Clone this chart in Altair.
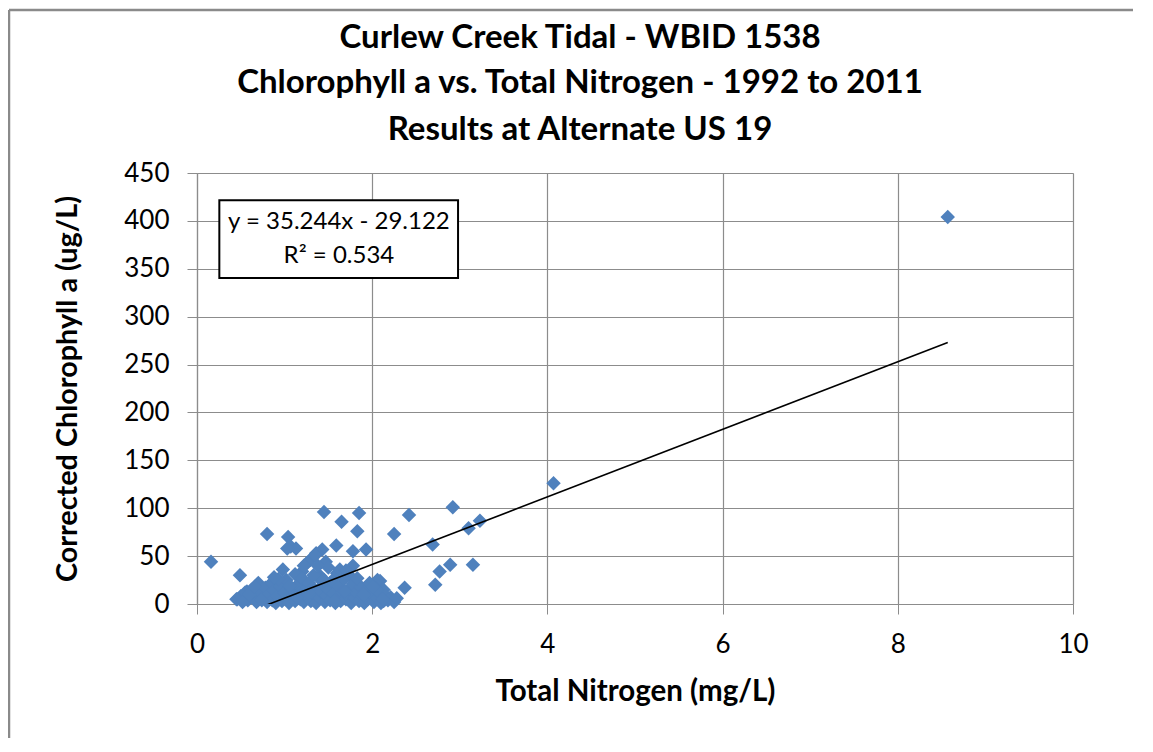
import altair as alt
import pandas as pd

# Total Nitrogen (mg/L)
tn = [0.16, 0.49, 0.80, 1.45, 1.85, 1.65, 1.83, 1.04, 1.07, 1.13, 1.43, 1.59,
      1.78, 1.93, 1.36, 1.29, 1.26, 1.47, 1.78, 0.98, 2.25, 2.42, 2.92, 3.23,
      3.10, 2.69, 2.89, 3.15, 2.77, 2.72, 2.37, 2.09, 2.21, 2.13, 4.07, 8.57,
      1.03, 1.60, 1.35, 1.20, 1.12, 1.41, 1.52, 1.75, 2.06, 1.98, 2.13, 0.57,
      0.70, 0.46,
      0.45, 0.50, 0.55, 0.58, 0.62, 0.65, 0.68, 0.70, 0.72, 0.75, 0.78, 0.80,
      0.82, 0.85, 0.86, 0.88, 0.90, 0.92, 0.95, 0.97, 1.00, 1.02, 1.03, 1.05,
      1.08, 1.10, 1.12, 1.15, 1.17, 1.18, 1.20, 1.22, 1.24, 1.26, 1.28, 1.30,
      1.32, 1.34, 1.36, 1.38, 1.40, 1.42, 1.44, 1.46, 1.48, 1.50, 1.52, 1.54,
      1.56, 1.58, 1.60, 1.62, 1.64, 1.66, 1.68, 1.70, 1.72, 1.74, 1.76, 1.78,
      1.80, 1.82, 1.85, 1.87, 1.89, 1.91, 1.93, 1.95, 1.97, 2.00, 2.02, 2.04,
      2.06, 2.08, 2.10, 2.15, 2.18, 2.25, 2.28,
      0.52, 0.60, 0.66, 0.74, 0.93, 1.06, 1.14, 1.33, 1.45, 1.57, 1.69, 1.83,
      1.90, 2.01, 2.12, 0.88, 1.27, 1.63, 1.50, 1.70, 1.38, 1.22]

# Corrected Chlorophyll a (ug/L)
chla = [44, 30, 73, 96, 95, 86, 76, 70, 60, 58, 57, 61,
        55, 57, 53, 46, 43, 44, 40, 36, 73, 93, 101, 87,
        79, 62, 41, 41, 34, 20, 17, 24, 7, 3, 126, 404,
        58, 32, 51, 34, 31, 29, 22, 29, 25, 20, 15, 13,
        22, 5,
        5, 8, 12, 4, 15, 9, 2, 20, 12, 6, 17, 2,
        10, 22, 4, 14, 1, 8, 18, 3, 12, 25, 6, 1,
        16, 9, 3, 20, 11, 5, 27, 2, 14, 8, 22, 3,
        17, 10, 1, 28, 6, 13, 20, 2, 9, 15, 4, 24,
        11, 1, 7, 18, 3, 12, 26, 5, 9, 16, 1, 21,
        6, 12, 3, 18, 8, 1, 14, 5, 22, 10, 2, 16,
        6, 12, 1, 9, 4, 2, 6,
        2, 10, 18, 4, 26, 19, 7, 30, 25, 3, 13, 27,
        10, 18, 5, 28, 12, 36, 38, 35, 40, 40]

# Trendline as reported on the chart
slope = 35.244
intercept = -29.122
eq_lines = ["y = 35.244x - 29.122", "R\u00b2 = 0.534"]

title_lines = ["Curlew Creek Tidal - WBID 1538",
               "Chlorophyll a vs. Total Nitrogen - 1992 to 2011",
               "Results at Alternate US 19"]

FONT = "Lato"
GRID = "#8c8c8c"

df = pd.DataFrame({"tn": tn, "chla": chla})
xs = [min(tn), max(tn)]
trend = pd.DataFrame({"tn": xs, "chla": [slope * v + intercept for v in xs]})

W, H = 876, 431

xscale = alt.Scale(domain=[0, 10], nice=False, zero=False)
yscale = alt.Scale(domain=[0, 450], nice=False)

xaxis = alt.Axis(values=[0, 2, 4, 6, 8, 10], format="d", labelFlush=False,
                 title="Total Nitrogen (mg/L)",
                 grid=True, gridColor=GRID, gridWidth=1.2,
                 domainColor=GRID, domainWidth=1.2, tickColor=GRID, tickSize=10,
                 labelFont=FONT, labelFontSize=26, labelColor="#000000",
                 labelPadding=17, titleFont=FONT, titleFontSize=29.5,
                 titleFontWeight="bold", titleColor="#000000", titlePadding=20)
yaxis = alt.Axis(values=list(range(0, 451, 50)), format="d", labelFlush=False,
                 title="Corrected Chlorophyll a (ug/L)",
                 grid=True, gridColor=GRID, gridWidth=1.2,
                 domainColor=GRID, domainWidth=1.2, tickColor=GRID, tickSize=10,
                 labelFont=FONT, labelFontSize=26, labelColor="#000000",
                 labelPadding=18, titleFont=FONT, titleFontSize=28.8,
                 titleFontWeight="bold", titleColor="#000000", titlePadding=41)

points = alt.Chart(df).mark_point(
    shape="diamond", filled=True, size=210, color="#4f81bd", opacity=1
).encode(
    x=alt.X("tn:Q", scale=xscale, axis=xaxis),
    y=alt.Y("chla:Q", scale=yscale, axis=yaxis),
)

line = alt.Chart(trend).mark_line(color="#000000", strokeWidth=1.6, clip=True).encode(
    x=alt.X("tn:Q", scale=xscale),
    y=alt.Y("chla:Q", scale=yscale),
)

box = alt.Chart(pd.DataFrame({"a": [0]})).mark_rect(
    fill="white", stroke="#000000", strokeWidth=2
).encode(
    x=alt.datum(0.255), x2=alt.datum(2.98),
    y=alt.datum(421.5), y2=alt.datum(340.5),
)

eq = alt.Chart(pd.DataFrame({"t": eq_lines, "yy": [399, 363]})).mark_text(
    font=FONT, fontSize=24, color="#000000", align="center", baseline="middle"
).encode(
    x=alt.datum(1.62), y=alt.Y("yy:Q", scale=yscale), text="t:N"
)

# three-line chart title, centred on the chart frame
title_layers = []
for line_text, ypos in zip(title_lines, [-125, -80, -33]):
    title_layers.append(
        alt.Chart(pd.DataFrame({"t": [line_text]})).mark_text(
            font=FONT, fontSize=33, fontWeight="bold", color="#000000",
            align="center", baseline="alphabetic", clip=False
        ).encode(x=alt.value(383), y=alt.value(ypos), text="t:N")
    )

# outer chart frame (top and left edges visible)
frame_top = alt.Chart(pd.DataFrame({"a": [0]})).mark_rule(
    color="#8a8a8a", strokeWidth=2.5, clip=False
).encode(x=alt.value(-188), x2=alt.value(W + 80), y=alt.value(-163))
frame_left = alt.Chart(pd.DataFrame({"a": [0]})).mark_rule(
    color="#8a8a8a", strokeWidth=2.5, clip=False
).encode(x=alt.value(-188), y=alt.value(-163), y2=alt.value(H + 200))

chart = alt.layer(frame_top, frame_left, *title_layers, points, line, box, eq).properties(
    width=W, height=H,
    autosize=alt.AutoSizeParams(type="none"),
    padding={"left": 189, "top": 165, "right": 60, "bottom": 134},
).configure_view(stroke="#222222", strokeWidth=1.2).configure(background="white")

chart.save("out.html", embed_options={"renderer": "svg", "actions": False})
